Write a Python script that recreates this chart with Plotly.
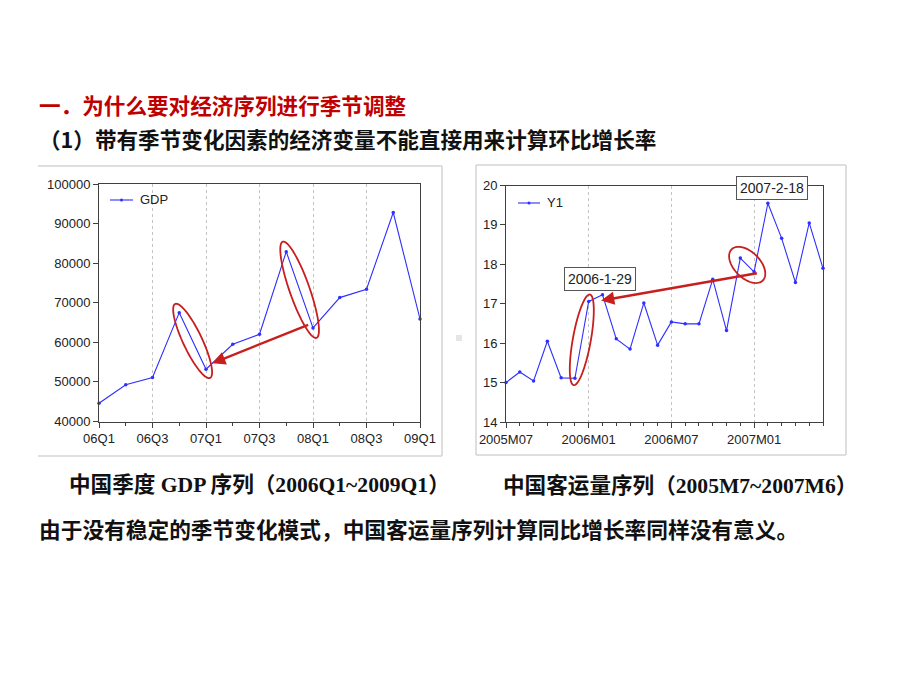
import numpy as np
import plotly.graph_objects as go

W, H = 920, 682

# ---------------- data ----------------
quarters = ["06Q1", "06Q2", "06Q3", "06Q4", "07Q1", "07Q2", "07Q3", "07Q4",
            "08Q1", "08Q2", "08Q3", "08Q4", "09Q1"]
gdp = [44600, 49300, 51100, 67500, 53200, 59500, 62050, 82900,
       63650, 71300, 73400, 92800, 65900]

months = ["2005M07", "2005M08", "2005M09", "2005M10", "2005M11", "2005M12",
          "2006M01", "2006M02", "2006M03", "2006M04", "2006M05", "2006M06",
          "2006M07", "2006M08", "2006M09", "2006M10", "2006M11", "2006M12",
          "2007M01", "2007M02", "2007M03", "2007M04", "2007M05", "2007M06"]
y1 = [15.00, 15.27, 15.04, 16.05, 15.12, 15.11,
      17.06, 17.23, 16.11, 15.85, 17.02, 15.95,
      16.54, 16.49, 16.49, 17.62, 16.32, 18.16,
      17.81, 19.55, 18.66, 17.54, 19.05, 17.90]

gdp_ticks = [0, 2, 4, 6, 8, 10, 12]
gdp_yticks = [40000, 50000, 60000, 70000, 80000, 90000, 100000]
y1_ticks = [0, 6, 12, 18]
y1_yticks = [14, 15, 16, 17, 18, 19, 20]

# ---------------- layout geometry (pixels) ----------------
L_box = (99, 184, 420, 421.5)   # x0, y0, x1, y1
R_box = (506, 185.5, 823, 422)

def dom(b):
    return [b[0] / W, b[2] / W], [1 - b[3] / H, 1 - b[1] / H]

Lx, Ly = dom(L_box)
Rx, Ry = dom(R_box)

L_xr, L_yr = [0, 12], [40000, 100000]
R_xr, R_yr = [0, 23], [14, 20]

BLUE = "#2f2fff"
RED = "#c81e1e"

fig = go.Figure()
fig.add_trace(go.Scatter(x=list(range(len(gdp))), y=gdp, mode="lines+markers",
                         line=dict(color=BLUE, width=1.1),
                         marker=dict(size=3.5, color=BLUE),
                         xaxis="x", yaxis="y", showlegend=False, cliponaxis=False))
fig.add_trace(go.Scatter(x=list(range(len(y1))), y=y1, mode="lines+markers",
                         line=dict(color=BLUE, width=1.1),
                         marker=dict(size=3.5, color=BLUE),
                         xaxis="x2", yaxis="y2", showlegend=False, cliponaxis=False))

tickfont = dict(family="Liberation Sans, Arial, sans-serif", size=13, color="#222")
axcommon = dict(showline=True, linecolor="#404040", linewidth=1, mirror=True,
                ticks="outside", ticklen=5, tickcolor="#404040", tickfont=tickfont,
                zeroline=False, automargin=False)

fig.update_layout(
    template="none",
    width=W, height=H, margin=dict(l=0, r=0, t=0, b=0, pad=0, autoexpand=False),
    paper_bgcolor="white", plot_bgcolor="white", showlegend=False,
    xaxis=dict(domain=Lx, range=L_xr, tickmode="array", tickvals=gdp_ticks,
               ticktext=[quarters[i] for i in gdp_ticks],
               showgrid=True, gridcolor="#c4c4c4", griddash="dot", gridwidth=1,
               minor=dict(ticks="outside", ticklen=3, tickcolor="#404040",
                          tickvals=list(range(len(quarters))), showgrid=False),
               anchor="y", **axcommon),
    yaxis=dict(domain=Ly, range=L_yr, tickmode="array",
               tickvals=gdp_yticks, ticktext=[str(v) for v in gdp_yticks],
               showgrid=False, anchor="x", **axcommon),
    xaxis2=dict(domain=Rx, range=R_xr, tickmode="array", tickvals=y1_ticks,
                ticktext=[months[i] for i in y1_ticks],
                showgrid=True, gridcolor="#c4c4c4", griddash="dot", gridwidth=1,
                minor=dict(ticks="outside", ticklen=3, tickcolor="#404040",
                           tickvals=list(range(len(months))), showgrid=False),
                anchor="y2", **axcommon),
    yaxis2=dict(domain=Ry, range=R_yr, tickmode="array",
                tickvals=y1_yticks, ticktext=[str(v) for v in y1_yticks],
                showgrid=False, anchor="x2", **axcommon),
)

# ---------------- helpers ----------------
def to_px(x, y, box, xr, yr):
    px = box[0] + (x - xr[0]) / (xr[1] - xr[0]) * (box[2] - box[0])
    py = box[3] - (y - yr[0]) / (yr[1] - yr[0]) * (box[3] - box[1])
    return px, py

def to_data(px, py, box, xr, yr):
    x = xr[0] + (px - box[0]) / (box[2] - box[0]) * (xr[1] - xr[0])
    y = yr[0] + (box[3] - py) / (box[3] - box[1]) * (yr[1] - yr[0])
    return x, y

def ellipse_path(p1, p2, box, xr, yr, extra, b):
    a1 = np.array(to_px(*p1, box, xr, yr))
    a2 = np.array(to_px(*p2, box, xr, yr))
    c = (a1 + a2) / 2
    d = a2 - a1
    L = np.hypot(*d)
    ang = np.arctan2(d[1], d[0])
    a = L / 2 + extra
    pts = []
    for t in np.linspace(0, 2 * np.pi, 72, endpoint=False):
        ex, ey = a * np.cos(t), b * np.sin(t)
        px = c[0] + ex * np.cos(ang) - ey * np.sin(ang)
        py = c[1] + ex * np.sin(ang) + ey * np.cos(ang)
        pts.append(to_data(px, py, box, xr, yr))
    return "M " + " L ".join(f"{x:.5f},{y:.5f}" for x, y in pts) + " Z"

# ellipses
for (i, j, extra, b) in [(3, 4, 9.6, 9.5), (7, 8, 10.6, 10)]:
    fig.add_shape(type="path", xref="x", yref="y",
                  path=ellipse_path((i, gdp[i]), (j, gdp[j]), L_box, L_xr, L_yr, extra, b),
                  line=dict(color=RED, width=1.8))
for (i, j, extra, b) in [(5, 6, 7, 9), (17, 18, 12.3, 13)]:
    fig.add_shape(type="path", xref="x2", yref="y2",
                  path=ellipse_path((i, y1[i]), (j, y1[j]), R_box, R_xr, R_yr, extra, b),
                  line=dict(color=RED, width=1.8))

# arrows
fig.add_annotation(x=4.23, y=54700, ax=7.875, ay=64580, xref="x", yref="y",
                   axref="x", ayref="y", showarrow=True, arrowhead=2, arrowsize=1.1,
                   arrowwidth=2.4, arrowcolor=RED, text="")
fig.add_annotation(x=6.9, y=17.08, ax=18.31, ay=17.78, xref="x2", yref="y2",
                   axref="x2", ayref="y2", showarrow=True, arrowhead=2, arrowsize=1.1,
                   arrowwidth=2.4, arrowcolor=RED, text="")

# date boxes
boxfont = dict(family="Liberation Sans, Arial, sans-serif", size=14, color="#222")
fig.add_annotation(x=6.8, y=17.63, xref="x2", yref="y2", text="2006-1-29",
                   showarrow=False, font=boxfont, bgcolor="white",
                   bordercolor="#555", borderwidth=1, borderpad=3)
fig.add_annotation(x=19.3, y=19.93, xref="x2", yref="y2", text="2007-2-18",
                   showarrow=False, font=boxfont, bgcolor="white",
                   bordercolor="#555", borderwidth=1, borderpad=3)

# legends (manual, small line samples)
def legend(x0, x1, y, label):
    fig.add_shape(type="line", xref="paper", yref="paper",
                  x0=x0 / W, x1=x1 / W, y0=1 - y / H, y1=1 - y / H,
                  line=dict(color=BLUE, width=1.1))
    xm = (x0 + x1) / 2
    fig.add_shape(type="circle", xref="paper", yref="paper",
                  x0=(xm - 1.5) / W, x1=(xm + 1.5) / W,
                  y0=1 - (y + 1.5) / H, y1=1 - (y - 1.5) / H,
                  fillcolor=BLUE, line=dict(width=0))
    fig.add_annotation(x=(x1 + 5) / W, y=1 - y / H, xref="paper", yref="paper",
                       text=label, showarrow=False, xanchor="left", yanchor="middle",
                       font=tickfont)

legend(110, 133, 200, "GDP")
legend(518, 540, 203, "Y1")

# panel frames
PC = "#d4d4d4"
for (xa, ya, xb, yb) in [(38, 166, 442, 166), (442, 166, 442, 456), (38, 456, 442, 456),
                         (476, 165, 846, 165), (846, 165, 846, 455), (476, 455, 846, 455),
                         (476, 165, 476, 455)]:
    fig.add_shape(type="line", xref="paper", yref="paper",
                  x0=xa / W, x1=xb / W, y0=1 - ya / H, y1=1 - yb / H,
                  line=dict(color=PC, width=1.5))
fig.add_shape(type="rect", xref="paper", yref="paper",
              x0=456 / W, x1=462 / W, y0=1 - 341 / H, y1=1 - 335 / H,
              fillcolor="#e6e6e6", line=dict(width=0))

# texts
CJK = "Noto Sans CJK SC, sans-serif"
fig.add_annotation(x=37 / W, y=1 - 105 / H, xref="paper", yref="paper",
                   text="<b>一．为什么要对经济序列进行季节调整</b>", showarrow=False,
                   xanchor="left", yanchor="middle",
                   font=dict(family=CJK, size=21.6, color="#C00000"))
fig.add_annotation(x=37 / W, y=1 - 138 / H, xref="paper", yref="paper",
                   text="<b>（1）带有季节变化因素的经济变量不能直接用来计算环比增长率</b>",
                   showarrow=False, xanchor="left", yanchor="middle",
                   font=dict(family=CJK, size=21.6, color="#111"))
SER = "Liberation Serif, Noto Sans CJK SC, serif"
fig.add_annotation(x=259 / W, y=1 - 485 / H, xref="paper", yref="paper",
                   text="<b>中国季度 GDP 序列（2006Q1~2009Q1）</b>", showarrow=False,
                   xanchor="center", yanchor="middle",
                   font=dict(family=SER, size=21.6, color="#111"))
fig.add_annotation(x=680 / W, y=1 - 485 / H, xref="paper", yref="paper",
                   text="<b>中国客运量序列（2005M7~2007M6）</b>", showarrow=False,
                   xanchor="center", yanchor="middle",
                   font=dict(family=SER, size=21.6, color="#111"))
fig.add_annotation(x=37 / W, y=1 - 530 / H, xref="paper", yref="paper",
                   text="<b>由于没有稳定的季节变化模式，中国客运量序列计算同比增长率同样没有意义。</b>",
                   showarrow=False, xanchor="left", yanchor="middle",
                   font=dict(family=SER, size=21.7, color="#111"))

fig.write_html("out.html")
